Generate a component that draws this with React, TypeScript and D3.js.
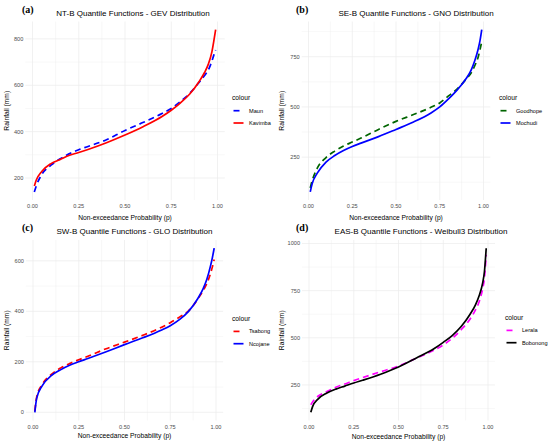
import React from "react";
import * as d3 from "d3";

const probs = [0.01, 0.02, 0.05, 0.1, 0.15, 0.2, 0.25, 0.3, 0.4, 0.5, 0.6, 0.7, 0.75, 0.8, 0.85, 0.9, 0.93, 0.95, 0.97, 0.98, 0.99];

const maun = [140, 165, 215, 255, 283, 305, 322, 336, 365, 405, 440, 478, 500, 530, 565, 612, 642, 665, 705, 730, 752];
const kavimba = [165, 190, 228, 262, 280, 298, 310, 323, 352, 385, 422, 465, 492, 524, 562, 615, 655, 690, 745, 790, 840];

const goodhope = [97, 130, 195, 248, 280, 305, 325, 345, 388, 428, 462, 498, 520, 555, 590, 638, 670, 705, 750, 785, 825];
const mochudi = [77, 115, 170, 225, 258, 283, 303, 320, 352, 388, 425, 470, 500, 540, 585, 640, 685, 730, 790, 830, 885];

const tsabong = [5, 60, 110, 150, 175, 193, 208, 222, 252, 278, 305, 336, 355, 377, 402, 448, 482, 510, 550, 575, 605];
const ncojane = [0, 55, 105, 145, 168, 186, 200, 213, 240, 268, 295, 325, 343, 367, 400, 450, 490, 527, 580, 612, 650];

const lerala = [145, 160, 190, 215, 238, 255, 273, 289, 320, 350, 392, 435, 462, 497, 543, 600, 648, 690, 760, 815, 940];
const bobonong = [105, 135, 175, 207, 228, 244, 260, 275, 307, 345, 393, 443, 476, 512, 560, 625, 675, 722, 790, 850, 975];

const xTicks = [0, 0.25, 0.5, 0.75, 1];
const yTicksA = [200, 400, 600, 800];
const yTicksB = [250, 500, 750];
const yTicksC = [0, 200, 400, 600];
const yTicksD = [250, 500, 750, 1000];

const FONT = "'Liberation Sans', Arial, Helvetica, sans-serif";

type Series = { name: string; values: number[]; color: string; dashed: boolean };
type PanelCfg = {
  label: string;
  title: string;
  x0: number; x1: number; top: number; bottom: number;
  yTicks: number[];
  series: Series[];
  legendX: number; legendY: number;
  titleX: number; titleY: number;
  labelX: number; labelY: number;
  xTitleY: number; yTitleX: number;
};

const panels: PanelCfg[] = [
  {
    label: "(a)", title: "NT-B Quantile Functions - GEV Distribution",
    x0: 32.5, x1: 217.5, top: 21.5, bottom: 200, yTicks: yTicksA,
    series: [
      { name: "Maun", values: maun, color: "#0000FF", dashed: true },
      { name: "Kavimba", values: kavimba, color: "#FF0000", dashed: false },
    ],
    legendX: 232, legendY: 98, titleX: 133, titleY: 16, labelX: 22, labelY: 13, xTitleY: 220, yTitleX: 9,
  },
  {
    label: "(b)", title: "SE-B Quantile Functions - GNO Distribution",
    x0: 308.5, x1: 483.5, top: 21.5, bottom: 200, yTicks: yTicksB,
    series: [
      { name: "Goodhope", values: goodhope, color: "#006400", dashed: true },
      { name: "Mochudi", values: mochudi, color: "#0000FF", dashed: false },
    ],
    legendX: 499, legendY: 98, titleX: 416, titleY: 16, labelX: 296, labelY: 13, xTitleY: 220, yTitleX: 284,
  },
  {
    label: "(c)", title: "SW-B Quantile Functions - GLO Distribution",
    x0: 33, x1: 216, top: 240, bottom: 420.5, yTicks: yTicksC,
    series: [
      { name: "Tsabong", values: tsabong, color: "#FF0000", dashed: true },
      { name: "Ncojane", values: ncojane, color: "#0000FF", dashed: false },
    ],
    legendX: 232, legendY: 318.7, titleX: 134.5, titleY: 234, labelX: 22, labelY: 231, xTitleY: 438, yTitleX: 9,
  },
  {
    label: "(d)", title: "EAS-B Quantile Functions - Weibull3 Distribution",
    x0: 309, x1: 488, top: 240, bottom: 420.5, yTicks: yTicksD,
    series: [
      { name: "Lerala", values: lerala, color: "#FF00FF", dashed: true },
      { name: "Bobonong", values: bobonong, color: "#000000", dashed: false },
    ],
    legendX: 505, legendY: 317.7, titleX: 421, titleY: 234, labelX: 296, labelY: 231, xTitleY: 438.5, yTitleX: 284,
  },
];

function Panel({ cfg }: { cfg: PanelCfg }) {
  const pExt = d3.extent(probs) as [number, number];
  const pPad = (pExt[1] - pExt[0]) * 0.05;
  const perUnit = cfg.x1 - cfg.x0;
  const left = cfg.x0 + (pExt[0] - pPad) * perUnit;
  const right = cfg.x0 + (pExt[1] + pPad) * perUnit;
  const x = d3.scaleLinear().domain([pExt[0] - pPad, pExt[1] + pPad]).range([left, right]);

  const all = cfg.series.flatMap((s) => s.values);
  const yExt = d3.extent(all) as [number, number];
  const yPad = (yExt[1] - yExt[0]) * 0.05;
  const yDom: [number, number] = [yExt[0] - yPad, yExt[1] + yPad];
  const y = d3.scaleLinear().domain(yDom).range([cfg.bottom, cfg.top]);

  const yStep = cfg.yTicks[1] - cfg.yTicks[0];
  const yMinor = [cfg.yTicks[0] - yStep / 2, ...cfg.yTicks.map((t) => t + yStep / 2)].filter(
    (v) => v >= yDom[0] && v <= yDom[1] && !cfg.yTicks.includes(v)
  );
  const xStep = xTicks[1] - xTicks[0];
  const xMinor = xTicks.slice(0, -1).map((t) => t + xStep / 2);

  const line = d3
    .line<number>()
    .x((_, i) => x(probs[i]))
    .y((v) => y(v))
    .curve(d3.curveMonotoneX);

  const grid = "#EBEBEB";
  return (
    <g>
      {yMinor.map((v) => (
        <line key={"ym" + v} x1={left} x2={right} y1={y(v)} y2={y(v)} stroke={grid} strokeWidth={0.35} />
      ))}
      {xMinor.map((v) => (
        <line key={"xm" + v} x1={x(v)} x2={x(v)} y1={cfg.top} y2={cfg.bottom} stroke={grid} strokeWidth={0.35} />
      ))}
      {cfg.yTicks.map((v) => (
        <line key={"yM" + v} x1={left} x2={right} y1={y(v)} y2={y(v)} stroke={grid} strokeWidth={0.7} />
      ))}
      {xTicks.map((v) => (
        <line key={"xM" + v} x1={x(v)} x2={x(v)} y1={cfg.top} y2={cfg.bottom} stroke={grid} strokeWidth={0.7} />
      ))}
      {cfg.series.map((s) => (
        <path
          key={s.name}
          d={line(s.values) || ""}
          fill="none"
          stroke={s.color}
          strokeWidth={1.7}
          strokeDasharray={s.dashed ? "6 4" : undefined}
        />
      ))}
      {cfg.yTicks.map((v) => (
        <text key={"yl" + v} x={left - 2} y={y(v)} dy="0.35em" textAnchor="end" fontSize={5.6} fill="#4D4D4D" fontFamily={FONT}>
          {v}
        </text>
      ))}
      {xTicks.map((v) => (
        <text key={"xl" + v} x={x(v)} y={cfg.bottom + 8} textAnchor="middle" fontSize={5.6} fill="#4D4D4D" fontFamily={FONT}>
          {d3.format(".2f")(v)}
        </text>
      ))}
      <text x={(left + right) / 2} y={cfg.xTitleY} textAnchor="middle" fontSize={6.7} fill="#000" fontFamily={FONT}>
        Non-exceedance Probability (p)
      </text>
      <text
        transform={`translate(${cfg.yTitleX},${(cfg.top + cfg.bottom) / 2}) rotate(-90)`}
        textAnchor="middle"
        fontSize={6.7}
        fill="#000"
        fontFamily={FONT}
      >
        Rainfall (mm)
      </text>
      <text x={cfg.titleX} y={cfg.titleY} textAnchor="middle" fontSize={8} fill="#000" fontFamily={FONT}>
        {cfg.title}
      </text>
      <text x={cfg.labelX} y={cfg.labelY} fontSize={10} fontWeight="bold" fill="#000" fontFamily="'Liberation Serif', 'Times New Roman', serif">
        {cfg.label}
      </text>
      <g>
        <text x={cfg.legendX} y={cfg.legendY} dy="0.35em" fontSize={6.7} fill="#000" fontFamily={FONT}>
          colour
        </text>
        {cfg.series.map((s, i) => {
          const cy = cfg.legendY + 12.7 + i * 12.3;
          return (
            <g key={"lg" + s.name}>
              <line
                x1={cfg.legendX + 1.5}
                x2={cfg.legendX + 11.5}
                y1={cy}
                y2={cy}
                stroke={s.color}
                strokeWidth={1.7}
                strokeDasharray={s.dashed ? "6 4" : undefined}
              />
              <text x={cfg.legendX + 17} y={cy} dy="0.35em" fontSize={5.6} fill="#000" fontFamily={FONT}>
                {s.name}
              </text>
            </g>
          );
        })}
      </g>
    </g>
  );
}

export default function App() {
  return (
    <svg
      width={550}
      height={444}
      viewBox="0 0 550 444"
      style={{ position: "absolute", left: 0, top: 0, background: "#fff" }}
    >
      <rect x={0} y={0} width={550} height={444} fill="#fff" />
      {panels.map((p) => (
        <Panel key={p.label} cfg={p} />
      ))}
    </svg>
  );
}
